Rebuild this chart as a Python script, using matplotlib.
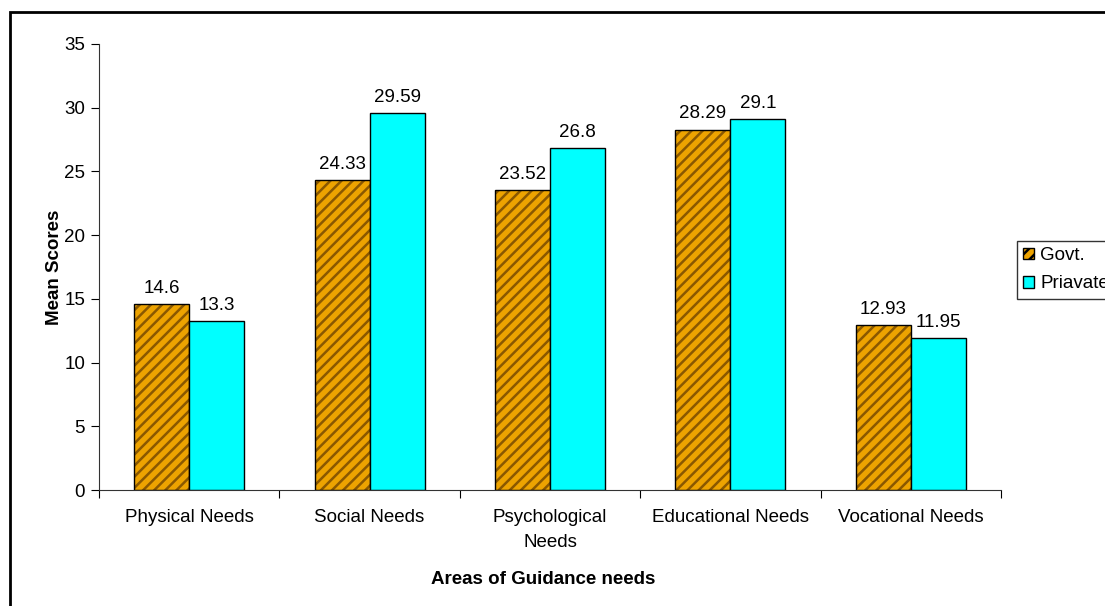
import matplotlib.pyplot as plt
import numpy as np
from matplotlib.patches import Rectangle, Patch

plt.rcParams['font.family'] = ['Liberation Sans', 'DejaVu Sans']
plt.rcParams['hatch.linewidth'] = 1.8

# data
categories = ['Physical Needs', 'Social Needs', 'Psychological\nNeeds',
              'Educational Needs', 'Vocational Needs']
govt = [14.6, 24.33, 23.52, 28.29, 12.93]
private = [13.3, 29.59, 26.8, 29.1, 11.95]
govt_labels = ['14.6', '24.33', '23.52', '28.29', '12.93']
private_labels = ['13.3', '29.59', '26.8', '29.1', '11.95']

FS = 13.5

fig = plt.figure(figsize=(11.05, 6.06), dpi=100)
ax = fig.add_axes([0.0896, 0.1914, 0.8163, 0.736])

x = np.arange(len(categories))
w = 0.305

# govt bars: striped fill, then black outline on top
ax.bar(x - w / 2, govt, w, color='#EDA300', edgecolor='#8A5800',
       hatch='///', linewidth=0)
ax.bar(x - w / 2, govt, w, fill=False, edgecolor='black', linewidth=1)
ax.bar(x + w / 2, private, w, color='#00FFFF', edgecolor='black', linewidth=1)

for xi, v, s in zip(x, govt, govt_labels):
    ax.text(xi - w / 2, v + 0.55, s, ha='center', va='bottom', fontsize=FS)
for xi, v, s in zip(x, private, private_labels):
    ax.text(xi + w / 2, v + 0.55, s, ha='center', va='bottom', fontsize=FS)

ax.set_xlim(-0.5, len(categories) - 0.5)
ax.set_ylim(0, 35)
ax.set_yticks(range(0, 36, 5))
ax.tick_params(axis='y', labelsize=FS, length=6, direction='out', pad=4)
ax.set_xticks(np.arange(-0.5, len(categories), 1.0))
ax.set_xticklabels([])
ax.tick_params(axis='x', length=6, direction='out')
for xi, c in zip(x, categories):
    ax.text(xi, -1.5, c, ha='center', va='top', fontsize=FS,
            linespacing=1.6)

for s in ['top', 'right']:
    ax.spines[s].set_visible(False)
ax.spines['left'].set_color('#333333')
ax.spines['bottom'].set_color('#333333')

ax.set_ylabel('Mean Scores', fontsize=FS, fontweight='bold', labelpad=1)
fig.text(0.492, 0.044, 'Areas of Guidance needs', ha='center',
         va='center', fontsize=FS, fontweight='bold')

# legend (cut at the right edge as in the original)
handles = [Patch(facecolor='#EDA300', edgecolor='black', hatch='///'),
           Patch(facecolor='#00FFFF', edgecolor='black')]
fig.legend(handles, ['Govt.', 'Priavate'], loc='upper left',
           bbox_to_anchor=(0.920, 0.603), frameon=True, fancybox=False,
           edgecolor='black', fontsize=FS, handlelength=0.6,
           handleheight=0.6, handletextpad=0.3, borderpad=0.35,
           labelspacing=0.6, borderaxespad=0)

# outer chart frame (left and top edges visible)
fig.add_artist(Rectangle((0.009, -0.1), 1.5, 1.08, transform=fig.transFigure,
                         fill=False, edgecolor='black', linewidth=2))

fig.savefig('out.png', dpi=100)
